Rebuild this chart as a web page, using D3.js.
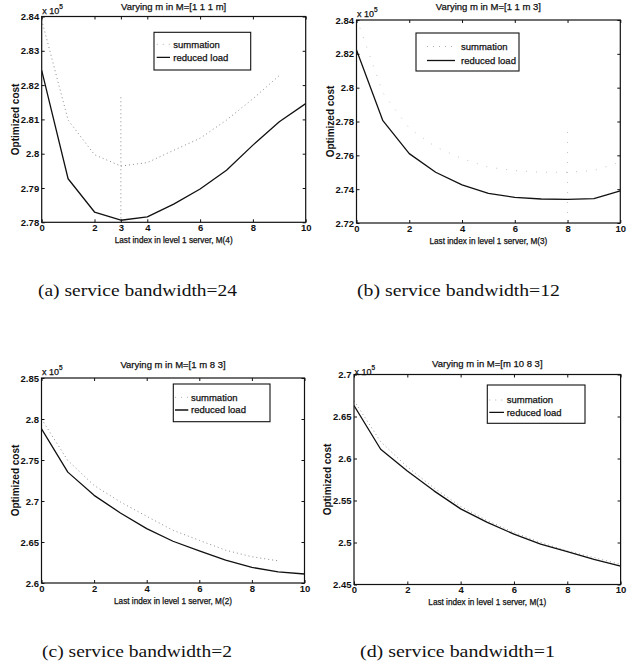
<!DOCTYPE html>
<html>
<head>
<meta charset="utf-8">
<script src="https://cdn.jsdelivr.net/npm/d3@7/dist/d3.min.js"></script>
<style>
  body { margin: 0; background: #fff; }
  svg { display: block; }
  .lbl { font-family: "Liberation Sans", Arial, sans-serif; fill: #111; stroke: #111; stroke-width: 0.25px; }
  .cap { font-family: "Liberation Serif", "Times New Roman", serif; fill: #111; }
</style>
</head>
<body>
<div id="fig"></div>
<script>
// x values shared by all four panels: m = 0..10
const xs = [0, 1, 2, 3, 4, 5, 6, 7, 8, 9, 10];

// (a) service bandwidth = 24, M = [1 1 1 m]
const sumA = [2.839, 2.8098, 2.7997, 2.7964, 2.7974, 2.8010, 2.8045, 2.8098, 2.8160, 2.8228];
const redA = [2.8243, 2.7927, 2.7830, 2.7806, 2.7816, 2.7853, 2.7897, 2.7952, 2.8025, 2.8093, 2.8146];
const markA = [2.78, 2.8167]; // dotted marker at m = 3
const yTicksA = [2.78, 2.79, 2.80, 2.81, 2.82, 2.83, 2.84];
const yLabelsA = ['2.78', '2.79', '2.8', '2.81', '2.82', '2.83', '2.84'];
const xTicksA = [0, 2, 3, 4, 6, 8, 10];

// (b) service bandwidth = 12, M = [1 1 m 3]
const sumB = [2.841, 2.797, 2.776, 2.765, 2.758, 2.753, 2.751, 2.750, 2.750, 2.751, 2.756];
const redB = [2.8223, 2.7805, 2.761, 2.750, 2.7425, 2.7375, 2.7352, 2.7342, 2.734, 2.7344, 2.739];
const markB = [2.72, 2.777]; // dotted marker at m = 8
const yTicksB = [2.72, 2.74, 2.76, 2.78, 2.80, 2.82, 2.84];
const yLabelsB = ['2.72', '2.74', '2.76', '2.78', '2.8', '2.82', '2.84'];
const xTicksB = [0, 2, 4, 6, 8, 10];

// (c) service bandwidth = 2, M = [1 m 8 3]
const sumC = [2.800, 2.7494, 2.719, 2.6988, 2.6813, 2.6643, 2.652, 2.640, 2.632, 2.627];
const redC = [2.788, 2.7352, 2.7069, 2.6854, 2.6663, 2.6509, 2.6391, 2.6278, 2.619, 2.6135, 2.611];
const yTicksC = [2.60, 2.65, 2.70, 2.75, 2.80, 2.85];
const yLabelsC = ['2.6', '2.65', '2.7', '2.75', '2.8', '2.85'];
const xTicksC = [0, 2, 4, 6, 8, 10];

// (d) service bandwidth = 1, M = [m 10 8 3]
const sumD = [2.669, 2.620, 2.590, 2.565, 2.543, 2.526, 2.512, 2.500, 2.490, 2.482, 2.474];
const redD = [2.663, 2.611, 2.585, 2.5615, 2.540, 2.524, 2.510, 2.498, 2.489, 2.480, 2.472];
const yTicksD = [2.45, 2.50, 2.55, 2.60, 2.65, 2.70];
const yLabelsD = ['2.45', '2.5', '2.55', '2.6', '2.65', '2.7'];
const xTicksD = [0, 2, 4, 6, 8, 10];

const legendNames = ['summation', 'reduced load'];

const W = 634, H = 671;
const svg = d3.select('#fig').append('svg').attr('width', W).attr('height', H);

const panels = [
  {
    id: 'a', sum: sumA, red: redA, mark: markA, markX: 3,
    yTicks: yTicksA, yLabels: yLabelsA, xTicks: xTicksA,
    box: { left: 41.7, right: 305.7, top: 16.5, bottom: 222.3 },
    title: 'Varying m in M=[1 1 1 m]', titleY: 9.5, expY: 14,
    xlabel: 'Last index in level 1 server, M(4)',
    legend: { x0: 154, y0: 32.3, x1: 250.7, y1: 70, s0: 156.7, s1: 170, tx: 173.3, r0: 12, r1: 25 },
    sumColor: '#8a8a8a', sumDash: '1,3',
    caption: '(a) service bandwidth=24', capX: 137.5, capY: 296, capW: 199
  },
  {
    id: 'b', sum: sumB, red: redB, mark: markB, markX: 8,
    yTicks: yTicksB, yLabels: yLabelsB, xTicks: xTicksB,
    box: { left: 356.5, right: 620.3, top: 20, bottom: 223 },
    title: 'Varying m in M=[1 1 m 3]', titleY: 10, expY: 17,
    xlabel: 'Last index in level 1 server, M(3)',
    legend: { x0: 416, y0: 33, x1: 519, y1: 71, s0: 427, s1: 455, tx: 461, r0: 13.5, r1: 27.5 },
    sumColor: '#c4c4c4', sumDash: '1,9',
    caption: '(b) service bandwidth=12', capX: 458.5, capY: 296, capW: 203
  },
  {
    id: 'c', sum: sumC, red: redC,
    yTicks: yTicksC, yLabels: yLabelsC, xTicks: xTicksC,
    box: { left: 41.5, right: 304.5, top: 378, bottom: 583 },
    title: 'Varying m in M=[1 m 8 3]', titleY: 367.5, expY: 375,
    xlabel: 'Last index in level 1 server, M(2)',
    legend: { x0: 173.3, y0: 384, x1: 270, y1: 421.7, s0: 175, s1: 188.3, tx: 191, r0: 13.3, r1: 26 },
    sumColor: '#8a8a8a', sumDash: '1,3',
    caption: '(c) service bandwidth=2', capX: 137, capY: 657, capW: 190
  },
  {
    id: 'd', sum: sumD, red: redD,
    yTicks: yTicksD, yLabels: yLabelsD, xTicks: xTicksD,
    box: { left: 354, right: 620.6, top: 374.5, bottom: 584.5 },
    title: 'Varying m in M=[m 10 8 3]', titleY: 366.5, expY: 375,
    xlabel: 'Last index in level 1 server, M(1)',
    legend: { x0: 487.3, y0: 385, x1: 585, y1: 423.3, s0: 489.3, s1: 504, tx: 506.7, r0: 15, r1: 27.3 },
    sumColor: '#9a9a9a', sumDash: '1,3',
    caption: '(d) service bandwidth=1', capX: 457.5, capY: 657, capW: 195
  }
];

panels.forEach(drawPanel);

function drawPanel(p) {
  const b = p.box;
  const g = svg.append('g').attr('class', 'panel-' + p.id);
  const x = d3.scaleLinear().domain([0, 10]).range([b.left, b.right]);
  const y = d3.scaleLinear()
    .domain([p.yTicks[0], p.yTicks[p.yTicks.length - 1]])
    .range([b.bottom, b.top]);

  // clip data lines to the plot box
  g.append('clipPath')
    .attr('id', 'clip-' + p.id)
    .append('rect')
    .attr('x', b.left).attr('y', b.top)
    .attr('width', b.right - b.left).attr('height', b.bottom - b.top);

  const body = g.append('g').attr('clip-path', 'url(#clip-' + p.id + ')');

  const line = d3.line()
    .x((d, i) => x(xs[i]))
    .y(d => y(d));

  body.append('path')
    .datum(p.sum)
    .attr('fill', 'none')
    .attr('stroke', p.sumColor)
    .attr('stroke-width', 1)
    .attr('stroke-dasharray', p.sumDash)
    .attr('d', line);

  if (p.mark) {
    body.append('line')
      .attr('x1', x(p.markX)).attr('x2', x(p.markX))
      .attr('y1', y(p.mark[0])).attr('y2', y(p.mark[1]))
      .attr('stroke', p.sumColor)
      .attr('stroke-width', 1)
      .attr('stroke-dasharray', p.sumDash);
  }

  body.append('path')
    .datum(p.red)
    .attr('fill', 'none')
    .attr('stroke', '#111')
    .attr('stroke-width', 1.3)
    .attr('stroke-linejoin', 'round')
    .attr('d', line);

  // axes: MATLAB style, ticks pointing inward on all four sides
  const styleAxis = sel => {
    sel.select('.domain').remove();
    sel.selectAll('.tick line').attr('stroke', '#111');
    sel.selectAll('.tick text')
      .attr('class', 'lbl')
      .attr('font-size', 9.5)
      .attr('font-weight', 'bold')
      .attr('font-family', null)
      .style('stroke-width', '0px');
  };

  g.append('g')
    .attr('transform', 'translate(0,' + b.bottom + ')')
    .call(d3.axisBottom(x).tickValues(p.xTicks).tickSizeInner(-3).tickSizeOuter(0)
      .tickPadding(2).tickFormat(d3.format('d')))
    .call(styleAxis);
  g.append('g')
    .attr('transform', 'translate(0,' + b.top + ')')
    .call(d3.axisTop(x).tickValues(p.xTicks).tickSizeInner(-3).tickSizeOuter(0).tickFormat(''))
    .call(styleAxis);
  g.append('g')
    .attr('transform', 'translate(' + b.left + ',0)')
    .call(d3.axisLeft(y).tickValues(p.yTicks).tickSizeInner(-3).tickSizeOuter(0)
      .tickPadding(2.5).tickFormat((d, i) => p.yLabels[i]))
    .call(styleAxis);
  g.append('g')
    .attr('transform', 'translate(' + b.right + ',0)')
    .call(d3.axisRight(y).tickValues(p.yTicks).tickSizeInner(-3).tickSizeOuter(0).tickFormat(''))
    .call(styleAxis);

  g.append('rect')
    .attr('x', b.left).attr('y', b.top)
    .attr('width', b.right - b.left).attr('height', b.bottom - b.top)
    .attr('fill', 'none')
    .attr('stroke', '#111')
    .attr('stroke-width', 1.2);

  // title, exponent, axis labels
  const cx = (b.left + b.right) / 2;
  g.append('text').attr('class', 'lbl')
    .attr('x', cx).attr('y', p.titleY)
    .attr('text-anchor', 'middle').attr('font-size', 9.5)
    .text(p.title);

  const ex = g.append('text').attr('class', 'lbl')
    .attr('x', b.left + 0.5).attr('y', p.expY)
    .attr('font-size', 9);
  ex.append('tspan').text('x 10');
  ex.append('tspan').attr('dy', -5).attr('font-size', 6.5).text('5');

  g.append('text').attr('class', 'lbl')
    .attr('x', cx).attr('y', b.bottom + 20.5)
    .attr('text-anchor', 'middle').attr('font-size', 8.2)
    .text(p.xlabel);

  g.append('text').attr('class', 'lbl')
    .attr('transform', 'translate(' + (b.left - 23) + ',' + ((b.top + b.bottom) / 2) + ') rotate(-90)')
    .attr('text-anchor', 'middle').attr('font-size', 10)
    .attr('font-weight', 'bold')
    .style('stroke-width', '0px')
    .text('Optimized cost');

  // legend
  const L = p.legend;
  g.append('clipPath')
    .attr('id', 'lclip-' + p.id)
    .append('rect')
    .attr('x', L.x0).attr('y', L.y0)
    .attr('width', L.x1 - L.x0).attr('height', L.y1 - L.y0);
  g.append('rect')
    .attr('x', L.x0).attr('y', L.y0)
    .attr('width', L.x1 - L.x0).attr('height', L.y1 - L.y0)
    .attr('fill', '#fff')
    .attr('stroke', '#111')
    .attr('stroke-width', 1.1);
  const lg = g.append('g').attr('clip-path', 'url(#lclip-' + p.id + ')');
  const rows = [L.r0, L.r1];
  legendNames.forEach((name, i) => {
    const yy = L.y0 + rows[i];
    lg.append('line')
      .attr('x1', L.s0).attr('x2', L.s1)
      .attr('y1', yy).attr('y2', yy)
      .attr('stroke', i === 0 ? '#b0b0b0' : '#111')
      .attr('stroke-width', i === 0 ? 1 : 1.3)
      .attr('stroke-dasharray', i === 0 ? '1,5' : null);
    lg.append('text').attr('class', 'lbl')
      .attr('x', L.tx).attr('y', yy + 3.3)
      .attr('font-size', 9.5)
      .text(name);
  });

  // caption
  svg.append('text').attr('class', 'cap')
    .attr('x', p.capX).attr('y', p.capY)
    .attr('text-anchor', 'middle')
    .attr('font-size', 17)
    .attr('textLength', p.capW)
    .attr('lengthAdjust', 'spacingAndGlyphs')
    .text(p.caption);
}
</script>
</body>
</html>
